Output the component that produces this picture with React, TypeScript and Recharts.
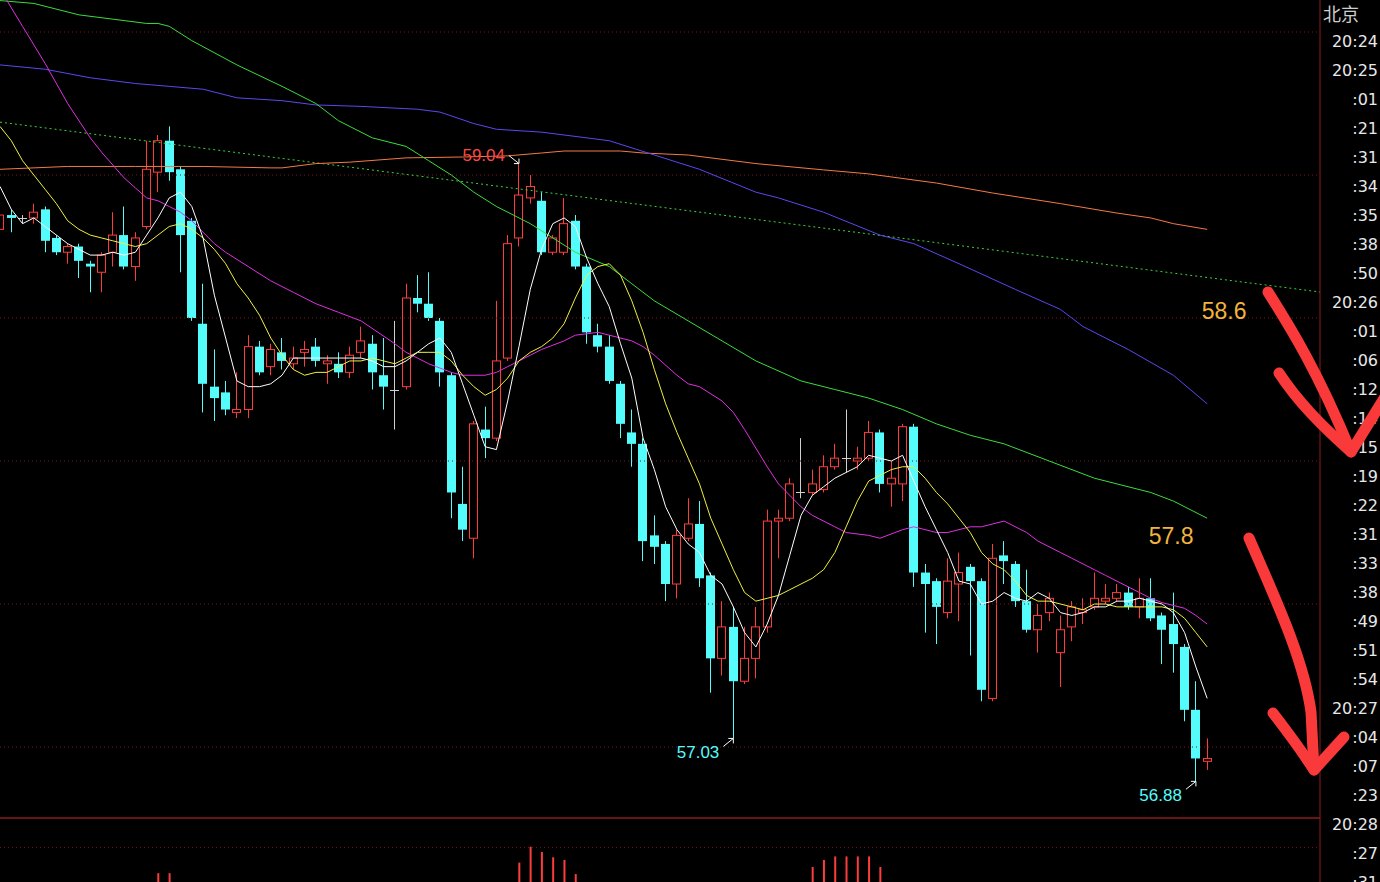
import React from 'react';
import { ComposedChart, XAxis, YAxis, Bar, Line, Scatter, ReferenceLine } from 'recharts';

// candle values (index 0 is the half-hidden candle on the left edge)
const OPEN = [
  58.81, 58.86, 58.85, 58.85, 58.88, 58.78, 58.73, 58.75, 58.69, 58.66,
  58.73, 58.79, 58.68, 58.82, 59.01, 59.12, 59.02, 58.84, 58.48, 58.26,
  58.24, 58.17, 58.18, 58.40, 58.33, 58.38, 58.34, 58.38, 58.40, 58.34,
  58.34, 58.31, 58.38, 58.41, 58.30, 58.25, 58.26, 58.57, 58.55, 58.49,
  58.30, 57.85, 57.73, 58.11, 58.08, 58.36, 58.78, 58.92, 58.91, 58.73,
  58.73, 58.84, 58.68, 58.44, 58.40, 58.27, 58.10, 58.06, 57.74, 57.71,
  57.57, 57.73, 57.78, 57.60, 57.31, 57.42, 57.23, 57.31, 57.42, 57.79,
  57.80, 57.89, 57.89, 57.90, 57.98, 58.01, 58.00, 58.01, 58.10, 57.92,
  57.92, 58.12, 57.61, 57.58, 57.47, 57.57, 57.63, 57.58, 57.17, 57.67,
  57.64, 57.51, 57.41, 57.47, 57.33, 57.42, 57.47, 57.49, 57.51, 57.52,
  57.54, 57.49, 57.52, 57.46, 57.43, 57.35, 57.13, 56.95,
];
const HIGH = [
  58.87, 58.88, 58.86, 58.90, 58.89, 58.79, 58.76, 58.76, 58.70, 58.73,
  58.87, 58.89, 58.80, 59.12, 59.14, 59.17, 59.03, 58.85, 58.62, 58.39,
  58.28, 58.31, 58.44, 58.42, 58.41, 58.43, 58.40, 58.42, 58.43, 58.37,
  58.38, 58.40, 58.47, 58.44, 58.43, 58.49, 58.62, 58.65, 58.66, 58.50,
  58.31, 57.98, 58.14, 58.19, 58.56, 58.79, 59.04, 59.00, 58.94, 58.79,
  58.92, 58.86, 58.69, 58.48, 58.44, 58.28, 58.18, 58.08, 57.81, 57.72,
  57.76, 57.87, 57.86, 57.61, 57.51, 57.49, 57.42, 57.49, 57.83, 57.83,
  57.94, 58.08, 57.97, 58.02, 58.06, 58.18, 58.05, 58.14, 58.11, 58.00,
  58.13, 58.13, 57.64, 57.59, 57.66, 57.68, 57.64, 57.59, 57.71, 57.72,
  57.65, 57.62, 57.50, 57.54, 57.46, 57.51, 57.52, 57.61, 57.57, 57.57,
  57.56, 57.59, 57.59, 57.47, 57.54, 57.36, 57.23, 57.03,
];
const LOW = [
  58.80, 58.80, 58.83, 58.83, 58.73, 58.72, 58.69, 58.64, 58.59, 58.59,
  58.68, 58.67, 58.63, 58.81, 58.94, 58.98, 58.66, 58.49, 58.17, 58.14,
  58.16, 58.15, 58.15, 58.30, 58.30, 58.32, 58.32, 58.33, 58.33, 58.27,
  58.29, 58.29, 58.36, 58.25, 58.18, 58.11, 58.25, 58.52, 58.49, 58.26,
  57.80, 57.72, 57.66, 58.01, 58.07, 58.35, 58.75, 58.90, 58.72, 58.72,
  58.72, 58.67, 58.41, 58.38, 58.27, 58.08, 57.98, 57.65, 57.64, 57.51,
  57.52, 57.72, 57.56, 57.19, 57.25, 57.03, 57.22, 57.24, 57.40, 57.66,
  57.79, 57.87, 57.88, 57.89, 57.97, 57.96, 57.97, 58.00, 57.89, 57.84,
  57.86, 57.56, 57.40, 57.36, 57.45, 57.44, 57.32, 57.16, 57.16, 57.57,
  57.49, 57.40, 57.33, 57.44, 57.21, 57.37, 57.43, 57.48, 57.50, 57.51,
  57.48, 57.45, 57.44, 57.29, 57.26, 57.09, 56.88, 56.92,
];
const CLOSE = [
  58.86, 58.85, 58.85, 58.87, 58.77, 58.73, 58.75, 58.70, 58.68, 58.72,
  58.79, 58.68, 58.78, 59.02, 59.12, 59.01, 58.79, 58.50, 58.27, 58.22,
  58.18, 58.18, 58.40, 58.31, 58.39, 58.35, 58.36, 58.39, 58.35, 58.35,
  58.31, 58.37, 58.42, 58.31, 58.26, 58.25, 58.57, 58.55, 58.50, 58.31,
  57.89, 57.76, 58.13, 58.08, 58.35, 58.76, 58.93, 58.96, 58.73, 58.78,
  58.83, 58.68, 58.45, 58.40, 58.28, 58.13, 58.06, 57.72, 57.70, 57.57,
  57.74, 57.78, 57.59, 57.31, 57.42, 57.23, 57.31, 57.42, 57.79, 57.80,
  57.92, 57.89, 57.92, 57.98, 58.01, 58.01, 58.01, 58.10, 57.92, 57.94,
  58.12, 57.61, 57.57, 57.49, 57.58, 57.61, 57.58, 57.20, 57.66, 57.65,
  57.51, 57.41, 57.46, 57.52, 57.41, 57.49, 57.48, 57.52, 57.52, 57.54,
  57.49, 57.52, 57.45, 57.41, 57.36, 57.13, 56.96, 56.96,
];

// only the tops of these volume sticks show; the rest of the pane is below the window
const VOLUME: [number, number][] = [
  [14, 10], [15, 10], [46, 22], [47, 40], [48, 34], [49, 28], [50, 25], [51, 9],
  [72, 17], [73, 25], [74, 29], [75, 29], [76, 29], [77, 29], [78, 17],
];

// white
const MA5 = [
  58.96, 58.88, 58.83, 58.85, 58.82, 58.79, 58.76, 58.74, 58.72, 58.72,
  58.73, 58.72, 58.73, 58.79, 58.85, 58.92, 58.94, 58.89, 58.78, 58.58,
  58.43, 58.28, 58.26, 58.26, 58.27, 58.30, 58.36, 58.36, 58.36, 58.36,
  58.36, 58.36, 58.36, 58.35, 58.33, 58.33, 58.35, 58.38, 58.41, 58.43,
  58.38, 58.27, 58.16, 58.05, 58.04, 58.21, 58.40, 58.60, 58.74, 58.83,
  58.85, 58.82, 58.71, 58.62, 58.54, 58.41, 58.29, 58.08, 57.97, 57.84,
  57.76, 57.71, 57.68, 57.60, 57.57, 57.49, 57.40, 57.35, 57.43, 57.53,
  57.67, 57.81, 57.88, 57.91, 57.94, 57.96, 57.98, 58.02, 58.01, 58.00,
  58.02, 57.93, 57.84, 57.76, 57.68, 57.58, 57.57, 57.50, 57.51, 57.54,
  57.52, 57.51, 57.54, 57.52, 57.47, 57.46, 57.47, 57.49, 57.49, 57.51,
  57.51, 57.52, 57.51, 57.50, 57.47, 57.40, 57.28, 57.17,
];
// yellow
const MA10 = [
  59.17, 59.12, 59.05, 59.00, 58.95, 58.90, 58.84, 58.81, 58.79, 58.78,
  58.77, 58.76, 58.75, 58.76, 58.79, 58.82, 58.83, 58.81, 58.78, 58.74,
  58.69, 58.62, 58.57, 58.51, 58.43, 58.37, 58.32, 58.30, 58.31, 58.31,
  58.33, 58.35, 58.35, 58.36, 58.35, 58.34, 58.36, 58.38, 58.38, 58.38,
  58.35, 58.30, 58.26, 58.23, 58.25, 58.29, 58.35, 58.38, 58.40, 58.43,
  58.48, 58.57, 58.65, 58.68, 58.69, 58.65, 58.56, 58.45, 58.32, 58.20,
  58.10, 58.01, 57.92, 57.80, 57.71, 57.62, 57.54, 57.51, 57.52, 57.53,
  57.55, 57.57, 57.59, 57.62, 57.68, 57.77, 57.86, 57.93, 57.95, 57.97,
  57.98, 57.98, 57.94, 57.89, 57.85, 57.80, 57.75, 57.68, 57.64, 57.62,
  57.58, 57.53, 57.51, 57.51, 57.50, 57.49, 57.48, 57.50, 57.50, 57.49,
  57.49, 57.49, 57.49, 57.49, 57.48, 57.45, 57.40, 57.35,
];
// magenta, sampled [candle, value]
const MA20: [number, number][] = [
  [0, 59.65], [2, 59.52], [4, 59.39], [6, 59.25], [8, 59.13], [9, 59.08], [11, 58.99], [12, 58.955],
  [13, 58.92], [14, 58.91], [15, 58.89], [16, 58.87], [17, 58.84], [19, 58.76], [20, 58.73], [22, 58.68],
  [24, 58.63], [26, 58.59], [28, 58.55], [30, 58.52], [32, 58.49], [35, 58.41], [36, 58.38], [38, 58.34],
  [40, 58.31], [41, 58.30], [43, 58.30], [44, 58.31], [45, 58.33], [47, 58.37], [48, 58.39], [50, 58.42],
  [51, 58.44], [53, 58.45], [54, 58.44], [56, 58.42], [57, 58.40], [58, 58.37], [60, 58.30], [61, 58.27],
  [62, 58.26], [64, 58.21], [65, 58.17], [66, 58.11], [68, 57.98], [69, 57.92], [71, 57.84], [72, 57.81],
  [74, 57.77], [75, 57.75], [77, 57.74], [78, 57.73], [80, 57.76], [81, 57.77], [83, 57.75], [84, 57.75],
  [86, 57.77], [87, 57.77], [89, 57.79], [91, 57.75], [92, 57.72], [94, 57.68], [95, 57.66], [97, 57.62],
  [98, 57.6], [100, 57.56], [101, 57.54], [102, 57.52], [103, 57.505], [105, 57.485], [106, 57.46], [107, 57.43],
];
// green
const MA60: [number, number][] = [
  [0, 59.61], [3, 59.6], [7, 59.56], [11, 59.54], [13, 59.53], [14, 59.53], [15, 59.52], [17, 59.47],
  [21, 59.385], [25, 59.31], [28, 59.25], [30, 59.19], [33, 59.13], [36, 59.1], [38, 59.05], [40, 59.0],
  [42, 58.94], [44, 58.89], [47, 58.83], [49, 58.78], [51, 58.73], [54, 58.68], [56, 58.62], [58, 58.56],
  [61, 58.49], [64, 58.42], [67, 58.35], [71, 58.28], [74, 58.25], [77, 58.22], [80, 58.18], [83, 58.13],
  [86, 58.09], [89, 58.06], [93, 58.0], [97, 57.94], [102, 57.89], [104, 57.86], [107, 57.8],
];
// blue
const MA120: [number, number][] = [
  [0, 59.385], [4, 59.37], [8, 59.34], [12, 59.32], [15, 59.31], [18, 59.3], [21, 59.27], [25, 59.26],
  [28, 59.245], [32, 59.24], [37, 59.23], [39, 59.22], [42, 59.18], [44, 59.16], [48, 59.15], [54, 59.12],
  [58, 59.07], [62, 59.02], [67, 58.94], [69, 58.92], [73, 58.87], [78, 58.79], [81, 58.76], [85, 58.69],
  [90, 58.6], [94, 58.53], [96, 58.47], [100, 58.39], [104, 58.3], [107, 58.2],
];
// orange
const MA250: [number, number][] = [
  [0, 59.02], [6, 59.03], [12, 59.03], [18, 59.03], [24, 59.025], [25, 59.025], [28, 59.04], [31, 59.045],
  [36, 59.06], [41, 59.063], [45, 59.067], [48, 59.077], [50, 59.084], [55, 59.084], [57, 59.077], [61, 59.07],
  [67, 59.04], [73, 59.018], [77, 59.004], [83, 58.972], [88, 58.937], [94, 58.9], [99, 58.867], [102, 58.85],
  [104, 58.83], [107, 58.81],
];
// dotted green trend line, end points
const TREND: [number, number][] = [[0, 59.185], [117, 58.591]];

const PRICE_GRID = [59.5, 59, 58.5, 58, 57.5, 57];
const PANE_SPLIT = 56.752;
const VOL_GRID = 39;

const TIME_LABELS = [
  '北京', '20:24', '20:25', ':01', ':21', ':31', ':34', ':35', ':38', ':50',
  '20:26', ':01', ':06', ':12', ':14', ':15', ':19', ':22', ':31', ':33',
  ':38', ':49', ':51', ':54', '20:27', ':04', ':07', ':23', '20:28', ':27', ':31',
];

const EXTREMES = [
  { i: 46, price: 59.04, text: '59.04', side: 'high' },
  { i: 65, price: 57.03, text: '57.03', side: 'low' },
  { i: 106, price: 56.88, text: '56.88', side: 'low' },
];
const NOTES = [
  { i: 108.5, price: 58.525, text: '58.6' },
  { i: 103.8, price: 57.738, text: '57.8' },
];

const RED = '#ff3c3c';
const CYAN = '#54fcfc';
const GRID = '#7a1616';
const FONT = '"Liberation Sans", Arial, sans-serif';
const BODY = 9;

const candles = OPEN.map((open, i) => ({
  i,
  open,
  high: HIGH[i],
  low: LOW[i],
  close: CLOSE[i],
  vol: undefined as number | undefined,
}));
VOLUME.forEach(([i, v]) => {
  candles[i].vol = v;
});

const seq = (arr: number[]) => arr.map((v, i) => ({ i, v }));
const pts = (arr: [number, number][]) => arr.map(([i, v]) => ({ i, v }));

const Candle = (props: any) => {
  const { x, y, width, height, payload } = props;
  if (!payload || height == null) return null;
  const { open, close, high, low } = payload;
  const span = high - low || 1;
  const py = (p: number) => y + ((high - p) / span) * height;
  const mid = x + width / 2;
  const bx = Math.round(mid - BODY / 2);
  const cx = bx + Math.floor(BODY / 2) + 0.5;
  const top = py(Math.max(open, close));
  const bot = py(Math.min(open, close));

  if (open === close) {
    return (
      <g stroke="#d0d0d0" strokeWidth={1}>
        <line x1={cx} x2={cx} y1={y} y2={y + height} />
        <line x1={bx} x2={bx + BODY} y1={Math.round(top) + 0.5} y2={Math.round(top) + 0.5} />
      </g>
    );
  }
  const up = close > open;
  return (
    <g>
      <line x1={cx} x2={cx} y1={y} y2={y + height} stroke={up ? RED : CYAN} strokeWidth={1} />
      {up ? (
        <rect x={bx + 0.5} y={top} width={BODY - 1} height={Math.max(bot - top, 1)} fill="#000" stroke={RED} strokeWidth={1} />
      ) : (
        <rect x={bx} y={top} width={BODY} height={Math.max(bot - top, 1.5)} fill={CYAN} />
      )}
    </g>
  );
};

const Extreme = (props: any) => {
  const { cx, cy, payload } = props;
  if (cx == null || cy == null) return null;
  const high = payload.side === 'high';
  const tailY = high ? cy - 8 : cy + 8;
  const headY = high ? cy - 5 : cy + 5;
  return (
    <g>
      <line x1={cx - 10} y1={tailY} x2={cx} y2={cy} stroke="#fff" strokeWidth={1} />
      <polyline points={`${cx - 5},${cy} ${cx},${cy} ${cx},${headY}`} fill="none" stroke="#fff" strokeWidth={1} />
      <text
        x={cx - 14}
        y={high ? cy - 3 : cy + 20}
        textAnchor="end"
        fill={high ? '#ff4646' : CYAN}
        fontSize={17}
        fontFamily={FONT}
      >
        {payload.text}
      </text>
    </g>
  );
};

const Note = (props: any) => {
  const { cx, cy, payload } = props;
  if (cx == null || cy == null) return null;
  return (
    <text x={cx} y={cy} dy="0.36em" textAnchor="middle" fill="#f2b43c" fontSize={23} fontFamily={FONT}>
      {payload.text}
    </text>
  );
};

const TimeTick = (props: any) => {
  const { y, payload } = props;
  const label = TIME_LABELS[payload.value];
  if (label === undefined) return <g />;
  if (label === '北京') {
    return (
      <text x={1323} y={21} fill="#cfcfcf" fontSize={18} fontFamily='"Noto Sans CJK SC", sans-serif'>
        {label}
      </text>
    );
  }
  return (
    <text
      x={1378}
      y={y}
      dy="0.36em"
      textAnchor="end"
      fill="#e8e8e8"
      fontSize={16}
      fontFamily='"DejaVu Sans", sans-serif'
    >
      {label}
    </text>
  );
};

const lineProps = {
  xAxisId: 'x',
  yAxisId: 'price',
  dataKey: 'v',
  type: 'linear' as const,
  dot: false,
  activeDot: false,
  strokeWidth: 1,
  isAnimationActive: false,
};

export default function App() {
  return (
    <div style={{ position: 'absolute', left: 0, top: 0, width: 1380, height: 882, background: '#000', overflow: 'hidden' }}>
      <ComposedChart width={1380} height={882} data={candles} margin={{ top: 0, right: 0, bottom: 0, left: 0 }}>
        <XAxis xAxisId="x" dataKey="i" type="number" domain={[0, 117]} allowDataOverflow hide />
        <XAxis xAxisId="vx" dataKey="i" type="number" domain={[0, 117]} allowDataOverflow hide />
        <YAxis yAxisId="price" type="number" domain={[56.528, 59.612]} allowDataOverflow hide />
        <YAxis yAxisId="vol" type="number" domain={[0, 1000]} allowDataOverflow hide />
        <YAxis
          yAxisId="time"
          orientation="right"
          type="number"
          width={60}
          domain={[-0.414, 30]}
          reversed
          allowDataOverflow
          ticks={TIME_LABELS.map((_, k) => k)}
          interval={0}
          tickLine={false}
          axisLine={{ stroke: '#8c1c1c' }}
          tick={<TimeTick />}
        />

        {PRICE_GRID.map((p) => (
          <ReferenceLine key={p} xAxisId="x" yAxisId="price" y={p} stroke={GRID} strokeDasharray="1 3" />
        ))}
        <ReferenceLine xAxisId="x" yAxisId="price" y={PANE_SPLIT} stroke="#8c1c1c" strokeWidth={1.5} />
        <ReferenceLine xAxisId="vx" yAxisId="vol" y={VOL_GRID} stroke={GRID} strokeDasharray="1 3" />
        <ReferenceLine
          xAxisId="x"
          yAxisId="price"
          segment={[
            { x: TREND[0][0], y: TREND[0][1] },
            { x: TREND[1][0], y: TREND[1][1] },
          ]}
          stroke="#3ad43a"
          strokeDasharray="2 3"
        />

        <Bar xAxisId="vx" yAxisId="vol" dataKey="vol" barSize={2} fill={RED} isAnimationActive={false} />
        <Bar
          xAxisId="x"
          yAxisId="price"
          dataKey={(d: any) => [d.low, d.high]}
          barSize={BODY}
          shape={<Candle />}
          isAnimationActive={false}
        />

        <Line {...lineProps} data={pts(MA250)} stroke="#f47a45" />
        <Line {...lineProps} data={pts(MA120)} stroke="#5a48f0" />
        <Line {...lineProps} data={pts(MA60)} stroke="#3cdc3c" />
        <Line {...lineProps} data={pts(MA20)} stroke="#e030e0" />
        <Line {...lineProps} data={seq(MA10)} stroke="#f0f040" />
        <Line {...lineProps} data={seq(MA5)} stroke="#ffffff" />

        <Scatter xAxisId="x" yAxisId="price" data={EXTREMES} dataKey="price" shape={<Extreme />} isAnimationActive={false} />
        <Scatter xAxisId="x" yAxisId="price" data={NOTES} dataKey="price" shape={<Note />} isAnimationActive={false} />
      </ComposedChart>

      <svg width={1380} height={882} style={{ position: 'absolute', left: 0, top: 0, pointerEvents: 'none' }}>
        <g stroke="#fa3a3a" strokeWidth={11} fill="none" strokeLinecap="round" strokeLinejoin="round">
          <path d="M1268 292 C1292 330, 1318 372, 1351 452" />
          <path d="M1279 373 C1298 402, 1322 426, 1351 452 L1388 392" />
          <path d="M1249 538 C1276 600, 1304 660, 1311 712 L1314 770" />
          <path d="M1273 713 C1290 735, 1303 753, 1314 770 L1344 737" />
        </g>
      </svg>
    </div>
  );
}
